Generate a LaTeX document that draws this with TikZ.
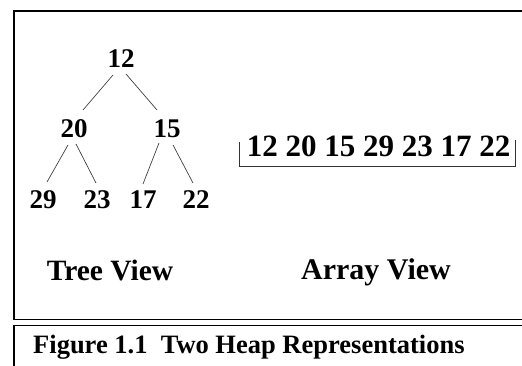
\documentclass[tikz,border=0pt]{standalone}
\usepackage{fontspec}
\setmainfont{Liberation Serif}
\usetikzlibrary{calc}

\tikzset{
  frame/.style={draw=black, line width=1.8pt},
  key/.style={font=\fontsize{27}{27}\selectfont\bfseries, inner sep=0pt, anchor=base},
  label/.style={font=\fontsize{29.5}{30}\selectfont\bfseries, inner sep=0pt, anchor=base},
  edge/.style={draw=black!75, line width=0.7pt},
  bracket/.style={draw=black!80, line width=0.8pt}
}

\begin{document}
\begin{tikzpicture}[x=1pt, y=-1pt]
  \useasboundingbox (0,0) rectangle (522,366);
  \begin{scope}
    \clip (0,0) rectangle (522,366);
    % main panel and caption panel, both running off the right edge
    \draw[frame] (14,11) rectangle (540,319.5);
    \draw[frame] (14,325.5) rectangle (540,390);
  \end{scope}

  % heap as a tree
  \node[key] (root) at (121,68) {12};
  \node[key] (n20) at (74,138) {20};
  \node[key] (n15) at (167,138) {15};
  \node[key] (n29) at (43,208) {29};
  \node[key] (n23) at (97,208) {23};
  \node[key] (n17) at (143,208) {17};
  \node[key] (n22) at (196,208) {22};

  \draw[edge] ($(root.base)+(-8,7)$) -- ($(n20.base)+(9,-28)$);
  \draw[edge] ($(root.base)+(5,6)$) -- ($(n15.base)+(-10,-28)$);
  \draw[edge] ($(n20.base)+(-6,7)$) -- ($(n29.base)+(4,-26)$);
  \draw[edge] ($(n20.base)+(2,6)$) -- ($(n23.base)+(-1,-25)$);
  \draw[edge] ($(n15.base)+(-8,5)$) -- ($(n17.base)+(0,-24)$);
  \draw[edge] ($(n15.base)+(6,7)$) -- ($(n22.base)+(-3,-25)$);

  % heap as an array
  \node[font=\fontsize{31}{31}\selectfont\bfseries, inner sep=0pt, anchor=base] (arr) at (378.5,157) {12 20 15 29 23 17 22};
  \coordinate (bl) at (239,142);
  \coordinate (br) at (515,140);
  \draw[bracket] (bl) |- (br |- 0,166) -- (br);

  % panel labels
  \node[label] (tv) at (110,280) {Tree View};
  \node[label, font=\fontsize{30}{30}\selectfont\bfseries] (av) at (376,279) {Array View};

  % caption
  \node[font=\fontsize{26.5}{27}\selectfont\bfseries, inner sep=0pt, anchor=base west] (cap) at (33,353) {Figure 1.1\ \ Two Heap Representations};
\end{tikzpicture}
\end{document}
